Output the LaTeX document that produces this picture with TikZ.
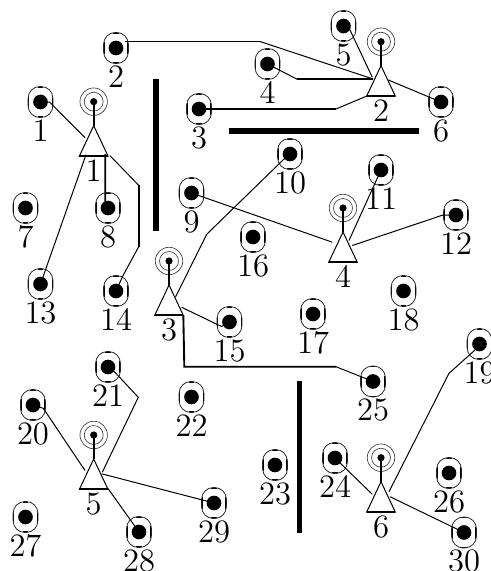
\documentclass[tikz,border=0pt]{standalone}
\usepackage{tikz}
\usetikzlibrary{shapes.geometric, positioning}

\begin{document}
\begin{tikzpicture}[x=0.75pt, y=-0.75pt]
    \tikzstyle{numlabel} = [font=\fontsize{12}{14}\selectfont, transform shape, scale=2.04, inner sep=0pt, label distance=0.4pt]
    \tikzstyle{stnlabel} = [numlabel, label distance=1pt]
    \tikzstyle{terminal} = [rectangle, draw=black!85, line width=0.6pt, rounded corners=8.8pt, minimum width=18.6pt, minimum height=23.2pt, inner sep=0pt, path picture={\fill[black] (path picture bounding box.center) circle (5.5pt);
        \draw[black, line width=2pt] ([yshift=4.5pt]path picture bounding box.west) -- ([yshift=-4.5pt]path picture bounding box.west);
        \draw[black, line width=2pt] ([yshift=4.5pt]path picture bounding box.east) -- ([yshift=-4.5pt]path picture bounding box.east);
        \draw[black, line width=2pt] ([xshift=2pt]path picture bounding box.north) -- ([xshift=-2pt]path picture bounding box.north);
        \draw[black, line width=2pt] ([xshift=2pt]path picture bounding box.south) -- ([xshift=-2pt]path picture bounding box.south);}]
    \tikzstyle{antenna} = [circle, draw=black!75, line width=0.5pt, minimum size=20.6pt, inner sep=0pt, path picture={\draw[black!75, line width=0.5pt] (path picture bounding box.center) circle (7.1pt); \fill[black] (path picture bounding box.center) circle (2.7pt);}]
    \tikzstyle{basestn} = [isosceles triangle, isosceles triangle stretches, shape border rotate=90, draw=black, line width=0.75pt, fill=white, minimum width=21.5pt, minimum height=22.8pt, inner sep=0pt, outer sep=0pt]
    \tikzstyle{wall} = [rectangle, fill=black, inner sep=0pt, outer sep=0pt]
    \tikzstyle{wire} = [black, line width=0.75pt]
    \tikzstyle{wirehv} = [black, line width=1.4pt]

    \useasboundingbox (0,0) rectangle (490,571);

    % walls
    \node (wall1) [wall, minimum width=4.5pt, minimum height=113.5pt] at (156,155) {};
    \node (wall2) [wall, minimum width=142.3pt, minimum height=4.5pt] at (324.2,131) {};
    \node (wall3) [wall, minimum width=3.7pt, minimum height=114.2pt] at (299.3,457.2) {};

    % terminals
    \node (t1) [terminal, label={[numlabel]below:1}] at (40.5,102) {};
    \node (t2) [terminal, label={[numlabel]below:2}] at (116,48) {};
    \node (t3) [terminal, label={[numlabel]below:3}] at (199,109) {};
    \node (t4) [terminal, label={[numlabel]below:4}] at (267.5,64) {};
    \node (t5) [terminal, label={[numlabel]below:5}] at (343.5,26) {};
    \node (t6) [terminal, label={[numlabel]below:6}] at (441,102) {};
    \node (t7) [terminal, label={[numlabel]below:7}] at (25.5,208) {};
    \node (t8) [terminal, label={[numlabel]below:8}] at (108,208) {};
    \node (t9) [terminal, label={[numlabel]below:9}] at (191.5,193) {};
    \node (t10) [terminal, label={[numlabel]below:10}] at (290,154) {};
    \node (t11) [terminal, label={[numlabel]below:11}] at (381,170) {};
    \node (t12) [terminal, label={[numlabel]below:12}] at (456,215) {};
    \node (t13) [terminal, label={[numlabel]below:13}] at (40.5,284) {};
    \node (t14) [terminal, label={[numlabel]below:14}] at (116,291) {};
    \node (t15) [terminal, label={[numlabel]below:15}] at (229.5,322) {};
    \node (t16) [terminal, label={[numlabel]below:16}] at (253,237) {};
    \node (t17) [terminal, label={[numlabel]below:17}] at (313,314) {};
    \node (t18) [terminal, label={[numlabel]below:18}] at (403.5,291) {};
    \node (t19) [terminal, label={[numlabel]below:19}] at (479.5,344) {};
    \node (t20) [terminal, label={[numlabel]below:20}] at (33,405) {};
    \node (t21) [terminal, label={[numlabel]below:21}] at (108,367) {};
    \node (t22) [terminal, label={[numlabel]below:22}] at (191.5,397) {};
    \node (t23) [terminal, label={[numlabel]below:23}] at (275,465) {};
    \node (t24) [terminal, label={[numlabel]below:24}] at (335,458) {};
    \node (t25) [terminal, label={[numlabel]below:25}] at (373,381.5) {};
    \node (t26) [terminal, label={[numlabel]below:26}] at (449,473) {};
    \node (t27) [terminal, label={[numlabel]below:27}] at (25.5,517) {};
    \node (t28) [terminal, label={[numlabel]below:28}] at (139,532) {};
    \node (t29) [terminal, label={[numlabel]below:29}] at (214,503) {};
    \node (t30) [terminal, label={[numlabel]below:30}] at (464,532.5) {};

    % base stations
    \node (a1) [antenna] at (93.7,101.7) {};
    \node (b1) [basestn, below=18pt of a1.center, anchor=apex, label={[stnlabel]below:1}] {};
    \node (a2) [antenna] at (381,41.7) {};
    \node (b2) [basestn, below=18pt of a2.center, anchor=apex, label={[stnlabel]below:2}] {};
    \node (a3) [antenna] at (169,261) {};
    \node (b3) [basestn, below=18pt of a3.center, anchor=apex, label={[stnlabel]below:3}] {};
    \node (a4) [antenna] at (343,208) {};
    \node (b4) [basestn, below=18pt of a4.center, anchor=apex, label={[stnlabel]below:4}] {};
    \node (a5) [antenna] at (93.7,435) {};
    \node (b5) [basestn, below=18pt of a5.center, anchor=apex, label={[stnlabel]below:5}] {};
    \node (a6) [antenna] at (381,457.7) {};
    \node (b6) [basestn, below=18pt of a6.center, anchor=apex, label={[stnlabel]below:6}] {};

    % masts and bases
    \draw [wirehv] (a1.center) -- (b1.apex);
    \draw [wirehv] (a2.center) -- (b2.apex);
    \draw [wirehv] (a3.center) -- (b3.apex);
    \draw [wirehv] (a4.center) -- (b4.apex);
    \draw [wirehv] (a5.center) -- (b5.apex);
    \draw [wirehv] (a6.center) -- (b6.apex);
    \draw [wirehv] (b1.left corner) -- (b1.right corner);
    \draw [wirehv] (b2.left corner) -- (b2.right corner);
    \draw [wirehv] (b3.left corner) -- (b3.right corner);
    \draw [wirehv] (b4.left corner) -- (b4.right corner);
    \draw [wirehv] (b5.left corner) -- (b5.right corner);
    \draw [wirehv] (b6.left corner) -- (b6.right corner);

    % links of station 1
    \draw [wire] (t1.center) -- ++(9,0) -- ([shift={(-8.7,12)}]b1.apex);
    \draw [wirehv] ([shift={(-2.7,-3)}]t8.center) -- ([shift={(11.6,28.5)}]b1.apex);
    \draw [wire] (t13.center) -- ([shift={(-7.7,29)}]b1.apex);
    \draw [wire] (t14.center) -- ++(7.3,-16) -- ++(15.4,-28.3);
    \draw [wirehv] ([shift={(22.7,-44.3)}]t14.center) -- ([shift={(22.7,-105.7)}]t14.center);
    \draw [wire] ([shift={(22.7,-105.7)}]t14.center) -- ([shift={(16.3,30)}]b1.apex);

    % links of station 2
    \draw [wire] (t5.center) -- ++(6.5,4) -- ([shift={(-8.7,11.6)}]b2.apex);
    \draw [wirehv] ([shift={(9,-6.5)}]t2.center) -- ([shift={(144,-6.5)}]t2.center);
    \draw [wire] ([shift={(144,-6.5)}]t2.center) -- ([shift={(-8,13.3)}]b2.apex);
    \draw [wire] (t4.center) -- ++(29.2,15);
    \draw [wirehv] ([shift={(29.2,15)}]t4.center) -- ([shift={(-8,13.3)}]b2.apex);
    \draw [wirehv] (t3.center) -- ++(137,0);
    \draw [wire] ([shift={(137,0)}]t3.center) -- (b2.left corner);
    \draw [wire] (t6.center) -- ([shift={(7.3,14.3)}]b2.apex);

    % links of station 3
    \draw [wire] (t10.center) -- ++(-7,6) -- ++(-76.3,74.3) -- ([shift={(6.5,12)}]b3.apex);
    \draw [wire] (t15.center) -- ++(-8,4.5) -- ([shift={(12.7,22.3)}]b3.apex);
    \draw [wirehv] (b3.right corner) -- ([shift={(15.3,81.7)}]b3.apex) -- ([shift={(167,81.7)}]b3.apex);
    \draw [wire] ([shift={(167,81.7)}]b3.apex) -- (t25.center);

    % links of station 4
    \draw [wire] (t9.center) -- ([shift={(-10.7,10.2)}]b4.apex);
    \draw [wire] (t11.center) -- ([shift={(6,8.5)}]b4.apex);
    \draw [wire] (t12.center) -- ++(-13,0) -- ([shift={(9.3,13.5)}]b4.apex);

    % links of station 5
    \draw [wire] (t20.center) -- ++(10.3,3.3) -- ([shift={(-8.7,11.5)}]b5.apex);
    \draw [wire] (t21.center) -- ++(7,5.3) -- ++(23.3,25) -- ([shift={(8.6,13.2)}]b5.apex);
    \draw [wire] (t28.center) -- ([shift={(14.3,29.5)}]b5.apex);
    \draw [wire] (t29.center) -- ([shift={(8,14.8)}]b5.apex);

    % links of station 6
    \draw [wire] (t24.center) -- ([shift={(-8.7,12.6)}]b6.apex);
    \draw [wire] (t19.center) -- ++(-4.5,6) -- ++(-26,23.3) -- ([shift={(8,10)}]b6.apex);
    \draw [wire] (t30.center) -- ([shift={(9,15)}]b6.apex);
\end{tikzpicture}
\end{document}
